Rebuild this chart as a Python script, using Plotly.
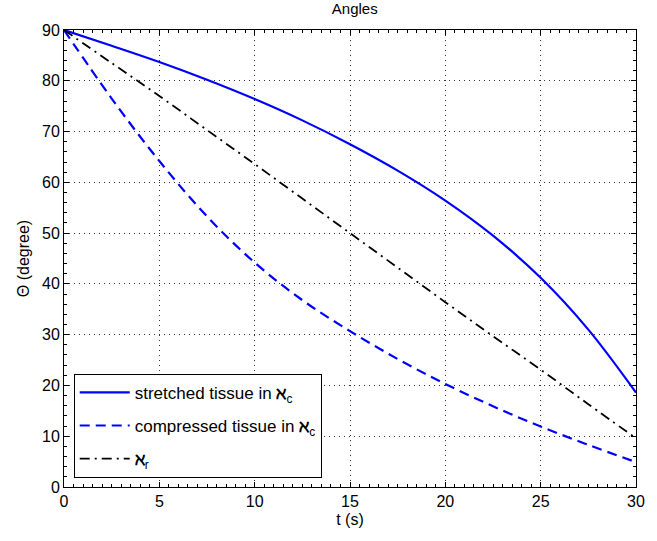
import plotly.graph_objects as go

t = [0, 2.5, 5, 7.5, 10, 12.5, 15, 17.5, 20, 22.5, 25, 27.5, 30]
stretched = [90, 86.9, 83.7, 80.2, 76.4, 72.2, 67.5, 62.3, 56.4, 49.5, 41.2, 31.0, 18.6]
compressed = [90, 76.5, 64.2, 53.3, 44.2, 36.8, 30.7, 25.2, 20.3, 15.9, 11.9, 8.3, 4.9]
reference = [90, 83.5, 77.0, 70.3, 63.6, 56.8, 50.0, 43.2, 36.4, 29.7, 23.1, 16.3, 9.6]

names = ["stretched tissue in <b>\u2135</b><sub>c</sub>",
         "compressed tissue in <b>\u2135</b><sub>c</sub>",
         "<b>\u2135</b><sub>r</sub>"]

FONT = "Liberation Sans, Arial, sans-serif"

fig = go.Figure()
fig.add_trace(go.Scatter(x=t, y=stretched, mode="lines", name=names[0], legendgroup="a",
                         line=dict(color="#0000ff", width=2.2, shape="spline", smoothing=1.0)))
fig.add_trace(go.Scatter(x=t, y=compressed, mode="lines", name=names[1], legendgroup="b",
                         line=dict(color="#0000ff", width=2.2, dash="10px,6px", shape="spline", smoothing=1.0)))
fig.add_trace(go.Scatter(x=t, y=reference, mode="lines", name=names[2], legendgroup="c",
                         line=dict(color="#000000", width=1.8, dash="10px,5px,2px,5px", shape="spline", smoothing=1.0)))

axis_common = dict(
    showline=True, linecolor="black", linewidth=1, mirror="allticks",
    ticks="inside", ticklen=5, tickcolor="black",
    showgrid=True, gridcolor="#333333", griddash="1px,4px", gridwidth=1,
    zeroline=False,
    tickfont=dict(family=FONT, size=16, color="black"),
)

fig.update_xaxes(range=[0, 30], dtick=5, tick0=0,
                 minor=dict(ticks="inside", dtick=0.5, ticklen=3, tickcolor="black", showgrid=False),
                 title=dict(text="t (s)", standoff=4, font=dict(family=FONT, size=16, color="black")),
                 **axis_common)
fig.update_yaxes(range=[0, 90], dtick=10, tick0=0,
                 minor=dict(ticks="inside", dtick=2, ticklen=3, tickcolor="black", showgrid=False),
                 title=dict(text="\u0398 (degree)", standoff=8, font=dict(family=FONT, size=16, color="black")),
                 **axis_common)

fig.update_layout(
    width=657, height=541,
    margin=dict(l=64, r=12, t=30, b=54),
    paper_bgcolor="white", plot_bgcolor="white",
    title=dict(text="Angles", x=0.54, xanchor="center", y=0.993, yanchor="top",
               font=dict(family=FONT, size=15, color="black")),
    legend=dict(x=0.017, y=0.02, xanchor="left", yanchor="bottom",
                bordercolor="black", borderwidth=1, bgcolor="white",
                font=dict(family=FONT, size=17, color="black"),
                tracegroupgap=8, itemwidth=50),
    showlegend=True,
)

fig.write_html("out.html")
